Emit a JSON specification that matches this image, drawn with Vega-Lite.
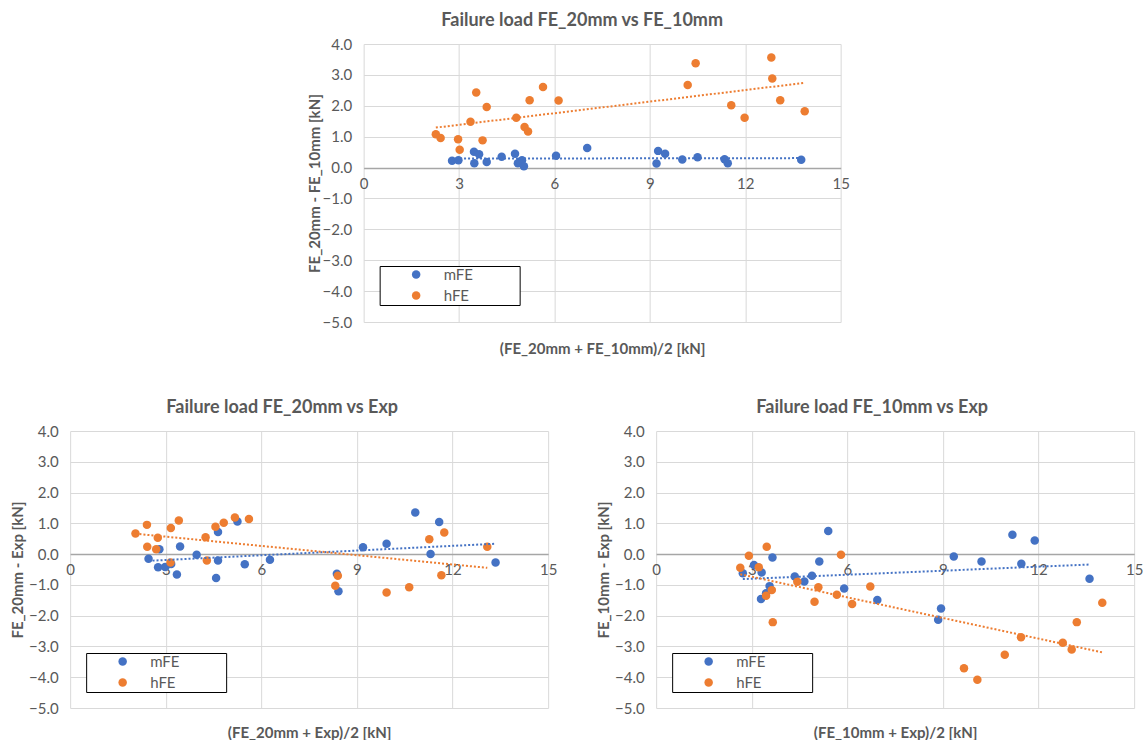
{
  "$schema": "https://vega.github.io/schema/vega-lite/v6.json",
  "padding": {"left": 10, "top": 12, "right": 0, "bottom": 0},
  "background": "white",
  "datasets": {
    "top": [
      {"x": 2.78, "y": 0.22, "s": "mFE"}, {"x": 2.98, "y": 0.24, "s": "mFE"}, {"x": 3.47, "y": 0.51, "s": "mFE"}, {"x": 3.48, "y": 0.14, "s": "mFE"},
      {"x": 3.63, "y": 0.43, "s": "mFE"}, {"x": 3.87, "y": 0.18, "s": "mFE"}, {"x": 4.34, "y": 0.35, "s": "mFE"}, {"x": 4.76, "y": 0.45, "s": "mFE"},
      {"x": 4.85, "y": 0.14, "s": "mFE"}, {"x": 4.98, "y": 0.24, "s": "mFE"}, {"x": 4.92, "y": 0.19, "s": "mFE"}, {"x": 5.04, "y": 0.04, "s": "mFE"},
      {"x": 6.05, "y": 0.38, "s": "mFE"}, {"x": 7.03, "y": 0.63, "s": "mFE"}, {"x": 9.21, "y": 0.13, "s": "mFE"}, {"x": 9.26, "y": 0.54, "s": "mFE"},
      {"x": 9.48, "y": 0.45, "s": "mFE"}, {"x": 10.02, "y": 0.26, "s": "mFE"}, {"x": 10.5, "y": 0.33, "s": "mFE"}, {"x": 11.35, "y": 0.27, "s": "mFE"},
      {"x": 11.45, "y": 0.14, "s": "mFE"}, {"x": 13.76, "y": 0.25, "s": "mFE"},
      {"x": 2.27, "y": 1.08, "s": "hFE"}, {"x": 2.42, "y": 0.96, "s": "hFE"}, {"x": 2.97, "y": 0.92, "s": "hFE"}, {"x": 3.02, "y": 0.58, "s": "hFE"},
      {"x": 3.36, "y": 1.48, "s": "hFE"}, {"x": 3.54, "y": 2.43, "s": "hFE"}, {"x": 3.74, "y": 0.88, "s": "hFE"}, {"x": 3.87, "y": 1.96, "s": "hFE"},
      {"x": 4.8, "y": 1.61, "s": "hFE"}, {"x": 5.06, "y": 1.31, "s": "hFE"}, {"x": 5.17, "y": 1.17, "s": "hFE"}, {"x": 5.22, "y": 2.18, "s": "hFE"},
      {"x": 5.64, "y": 2.61, "s": "hFE"}, {"x": 6.13, "y": 2.17, "s": "hFE"}, {"x": 10.19, "y": 2.67, "s": "hFE"}, {"x": 10.44, "y": 3.38, "s": "hFE"},
      {"x": 11.56, "y": 2.02, "s": "hFE"}, {"x": 11.98, "y": 1.61, "s": "hFE"}, {"x": 12.82, "y": 3.56, "s": "hFE"}, {"x": 12.85, "y": 2.88, "s": "hFE"},
      {"x": 13.1, "y": 2.18, "s": "hFE"}, {"x": 13.87, "y": 1.82, "s": "hFE"}
    ],
    "left": [
      {"x": 2.46, "y": -0.15, "s": "mFE"}, {"x": 2.76, "y": -0.43, "s": "mFE"}, {"x": 2.8, "y": 0.16, "s": "mFE"}, {"x": 2.98, "y": -0.42, "s": "mFE"},
      {"x": 3.17, "y": -0.32, "s": "mFE"}, {"x": 3.35, "y": -0.66, "s": "mFE"}, {"x": 3.45, "y": 0.25, "s": "mFE"}, {"x": 3.97, "y": -0.02, "s": "mFE"},
      {"x": 4.58, "y": -0.78, "s": "mFE"}, {"x": 4.64, "y": 0.72, "s": "mFE"}, {"x": 4.64, "y": -0.21, "s": "mFE"}, {"x": 5.25, "y": 1.06, "s": "mFE"},
      {"x": 5.48, "y": -0.33, "s": "mFE"}, {"x": 6.27, "y": -0.18, "s": "mFE"}, {"x": 8.37, "y": -0.64, "s": "mFE"}, {"x": 8.42, "y": -1.21, "s": "mFE"},
      {"x": 9.19, "y": 0.22, "s": "mFE"}, {"x": 9.93, "y": 0.34, "s": "mFE"}, {"x": 10.83, "y": 1.35, "s": "mFE"}, {"x": 11.31, "y": 0.0, "s": "mFE"},
      {"x": 11.58, "y": 1.04, "s": "mFE"}, {"x": 13.35, "y": -0.27, "s": "mFE"},
      {"x": 2.05, "y": 0.67, "s": "hFE"}, {"x": 2.41, "y": 0.95, "s": "hFE"}, {"x": 2.42, "y": 0.24, "s": "hFE"}, {"x": 2.7, "y": 0.16, "s": "hFE"},
      {"x": 2.75, "y": 0.53, "s": "hFE"}, {"x": 3.15, "y": -0.27, "s": "hFE"}, {"x": 3.16, "y": 0.85, "s": "hFE"}, {"x": 3.41, "y": 1.09, "s": "hFE"},
      {"x": 4.25, "y": 0.55, "s": "hFE"}, {"x": 4.29, "y": -0.21, "s": "hFE"}, {"x": 4.56, "y": 0.89, "s": "hFE"}, {"x": 4.82, "y": 1.02, "s": "hFE"},
      {"x": 5.17, "y": 1.19, "s": "hFE"}, {"x": 5.61, "y": 1.14, "s": "hFE"}, {"x": 8.32, "y": -1.03, "s": "hFE"}, {"x": 8.4, "y": -0.7, "s": "hFE"},
      {"x": 9.93, "y": -1.25, "s": "hFE"}, {"x": 10.64, "y": -1.08, "s": "hFE"}, {"x": 11.27, "y": 0.48, "s": "hFE"}, {"x": 11.65, "y": -0.69, "s": "hFE"},
      {"x": 11.74, "y": 0.7, "s": "hFE"}, {"x": 13.09, "y": 0.24, "s": "hFE"}
    ],
    "right": [
      {"x": 2.72, "y": -0.62, "s": "mFE"}, {"x": 3.07, "y": -0.35, "s": "mFE"}, {"x": 3.29, "y": -1.46, "s": "mFE"}, {"x": 3.31, "y": -0.6, "s": "mFE"},
      {"x": 3.45, "y": -1.27, "s": "mFE"}, {"x": 3.56, "y": -1.04, "s": "mFE"}, {"x": 3.65, "y": -0.11, "s": "mFE"}, {"x": 4.35, "y": -0.73, "s": "mFE"},
      {"x": 4.65, "y": -0.89, "s": "mFE"}, {"x": 4.89, "y": -0.7, "s": "mFE"}, {"x": 5.12, "y": -0.24, "s": "mFE"}, {"x": 5.4, "y": 0.75, "s": "mFE"},
      {"x": 5.9, "y": -1.12, "s": "mFE"}, {"x": 6.94, "y": -1.49, "s": "mFE"}, {"x": 8.85, "y": -2.13, "s": "mFE"}, {"x": 8.94, "y": -1.77, "s": "mFE"},
      {"x": 9.34, "y": -0.08, "s": "mFE"}, {"x": 10.21, "y": -0.24, "s": "mFE"}, {"x": 11.18, "y": 0.63, "s": "mFE"}, {"x": 11.46, "y": -0.31, "s": "mFE"},
      {"x": 11.88, "y": 0.44, "s": "mFE"}, {"x": 13.6, "y": -0.8, "s": "mFE"},
      {"x": 2.64, "y": -0.44, "s": "hFE"}, {"x": 2.91, "y": -0.05, "s": "hFE"}, {"x": 3.22, "y": -0.43, "s": "hFE"}, {"x": 3.45, "y": -1.35, "s": "hFE"},
      {"x": 3.47, "y": 0.24, "s": "hFE"}, {"x": 3.63, "y": -1.17, "s": "hFE"}, {"x": 3.66, "y": -2.21, "s": "hFE"}, {"x": 4.43, "y": -0.9, "s": "hFE"},
      {"x": 4.97, "y": -1.55, "s": "hFE"}, {"x": 5.09, "y": -1.08, "s": "hFE"}, {"x": 5.67, "y": -1.32, "s": "hFE"}, {"x": 5.8, "y": -0.02, "s": "hFE"},
      {"x": 6.15, "y": -1.62, "s": "hFE"}, {"x": 6.72, "y": -1.05, "s": "hFE"}, {"x": 9.66, "y": -3.71, "s": "hFE"}, {"x": 10.08, "y": -4.08, "s": "hFE"},
      {"x": 10.94, "y": -3.27, "s": "hFE"}, {"x": 11.45, "y": -2.7, "s": "hFE"}, {"x": 12.76, "y": -2.88, "s": "hFE"}, {"x": 13.04, "y": -3.1, "s": "hFE"},
      {"x": 13.2, "y": -2.21, "s": "hFE"}, {"x": 14.0, "y": -1.58, "s": "hFE"}
    ]
  },
  "center": true,
  "spacing": 43,
  "resolve": {"scale": {"color": "independent"}, "legend": {"color": "independent"}},
  "vconcat": [
    {
      "width": 477, "height": 278,
      "title": {"text": "Failure load FE_20mm vs FE_10mm", "dx": -20},
      "data": {"name": "top"},
      "resolve": {"axis": {"x": "independent"}},
      "encoding": {
        "y": {"field": "y", "type": "quantitative", "scale": {"domain": [-5, 4], "nice": false, "zero": false},
              "axis": {"values": [-5, -4, -3, -2, -1, 0, 1, 2, 3, 4], "format": ".1f", "title": "FE_20mm - FE_10mm [kN]", "ticks": false, "domain": false, "labelPadding": 12, "titlePadding": 0, "grid": true}}
      },
      "layer": [
        {
          "mark": {"type": "point", "filled": true, "size": 72, "opacity": 1},
          "encoding": {
            "x": {"field": "x", "type": "quantitative", "scale": {"domain": [0, 15], "nice": false, "zero": false},
                  "axis": {"orient": "bottom", "values": [0, 3, 6, 9, 12, 15], "grid": true, "labels": false, "ticks": false, "domain": false, "title": "(FE_20mm + FE_10mm)/2 [kN]", "titlePadding": 19}},
            "color": {"field": "s", "type": "nominal", "scale": {"domain": ["mFE", "hFE"], "range": ["#4472C4", "#ED7D31"]},
                      "legend": {"title": "\u00a0", "titleOrient": "right", "titlePadding": 46}}
          }
        },
        {
          "transform": [{"regression": "y", "on": "x", "groupby": ["s"]}],
          "mark": {"type": "line", "strokeDash": [2, 2], "strokeWidth": 2},
          "encoding": {
            "x": {"field": "x", "type": "quantitative", "scale": {"domain": [0, 15], "nice": false, "zero": false},
                  "axis": {"orient": "bottom", "values": [0, 3, 6, 9, 12, 15], "grid": false, "ticks": false, "domain": true, "offset": -154, "labelPadding": 8, "title": null}},
            "color": {"field": "s", "type": "nominal", "scale": {"domain": ["mFE", "hFE"], "range": ["#4472C4", "#ED7D31"]}, "legend": null}
          }
        }
      ]
    },
    {
      "spacing": 39,
      "resolve": {"scale": {"color": "independent"}, "legend": {"color": "independent"}},
      "hconcat": [
        {
          "width": 478, "height": 277,
          "title": {"text": "Failure load FE_20mm vs Exp", "dx": -27},
          "data": {"name": "left"},
          "resolve": {"axis": {"x": "independent"}},
          "encoding": {
            "y": {"field": "y", "type": "quantitative", "scale": {"domain": [-5, 4], "nice": false, "zero": false},
                  "axis": {"values": [-5, -4, -3, -2, -1, 0, 1, 2, 3, 4], "format": ".1f", "title": "FE_20mm - Exp [kN]", "ticks": false, "domain": false, "labelPadding": 12, "titlePadding": 3, "grid": true}}
          },
          "layer": [
            {
              "mark": {"type": "point", "filled": true, "size": 72, "opacity": 1},
              "encoding": {
                "x": {"field": "x", "type": "quantitative", "scale": {"domain": [0, 15], "nice": false, "zero": false},
                      "axis": {"orient": "bottom", "values": [0, 3, 6, 9, 12, 15], "grid": true, "labels": false, "ticks": false, "domain": false, "title": "(FE_20mm + Exp)/2 [kN]", "titlePadding": 17}},
                "color": {"field": "s", "type": "nominal", "scale": {"domain": ["mFE", "hFE"], "range": ["#4472C4", "#ED7D31"]},
                          "legend": {"title": "\u00a0", "titleOrient": "right", "titlePadding": 46}}
              }
            },
            {
              "transform": [{"regression": "y", "on": "x", "groupby": ["s"]}],
              "mark": {"type": "line", "strokeDash": [2, 2], "strokeWidth": 2},
              "encoding": {
                "x": {"field": "x", "type": "quantitative", "scale": {"domain": [0, 15], "nice": false, "zero": false},
                      "axis": {"orient": "bottom", "values": [0, 3, 6, 9, 12, 15], "grid": false, "ticks": false, "domain": true, "offset": -154, "labelPadding": 8, "title": null}},
                "color": {"field": "s", "type": "nominal", "scale": {"domain": ["mFE", "hFE"], "range": ["#4472C4", "#ED7D31"]}, "legend": null}
              }
            }
          ]
        },
        {
          "width": 478, "height": 277,
          "title": {"text": "Failure load FE_10mm vs Exp", "dx": -23},
          "data": {"name": "right"},
          "resolve": {"axis": {"x": "independent"}},
          "encoding": {
            "y": {"field": "y", "type": "quantitative", "scale": {"domain": [-5, 4], "nice": false, "zero": false},
                  "axis": {"values": [-5, -4, -3, -2, -1, 0, 1, 2, 3, 4], "format": ".1f", "title": "FE_10mm - Exp [kN]", "ticks": false, "domain": false, "labelPadding": 12, "titlePadding": 3, "grid": true}}
          },
          "layer": [
            {
              "mark": {"type": "point", "filled": true, "size": 72, "opacity": 1},
              "encoding": {
                "x": {"field": "x", "type": "quantitative", "scale": {"domain": [0, 15], "nice": false, "zero": false},
                      "axis": {"orient": "bottom", "values": [0, 3, 6, 9, 12, 15], "grid": true, "labels": false, "ticks": false, "domain": false, "title": "(FE_10mm + Exp)/2 [kN]", "titlePadding": 17}},
                "color": {"field": "s", "type": "nominal", "scale": {"domain": ["mFE", "hFE"], "range": ["#4472C4", "#ED7D31"]},
                          "legend": {"title": "\u00a0", "titleOrient": "right", "titlePadding": 46}}
              }
            },
            {
              "transform": [{"regression": "y", "on": "x", "groupby": ["s"]}],
              "mark": {"type": "line", "strokeDash": [2, 2], "strokeWidth": 2},
              "encoding": {
                "x": {"field": "x", "type": "quantitative", "scale": {"domain": [0, 15], "nice": false, "zero": false},
                      "axis": {"orient": "bottom", "values": [0, 3, 6, 9, 12, 15], "grid": false, "ticks": false, "domain": true, "offset": -154, "labelPadding": 8, "title": null}},
                "color": {"field": "s", "type": "nominal", "scale": {"domain": ["mFE", "hFE"], "range": ["#4472C4", "#ED7D31"]}, "legend": null}
              }
            }
          ]
        }
      ]
    }
  ],
  "config": {
    "font": "Lato",
    "view": {"stroke": null},
    "title": {"fontSize": 18, "fontWeight": "bold", "color": "#595959", "offset": 7, "anchor": "middle"},
    "axis": {"labelFont": "Lato", "labelFontSize": 15, "labelColor": "#595959", "titleFont": "Lato", "titleFontSize": 15, "titleFontWeight": "bold", "titleColor": "#595959", "gridColor": "#d9d9d9", "gridWidth": 1, "domainColor": "#a6a6a6", "domainWidth": 1.5, "labelFlush": false, "labelOverlap": false},
    "legend": {"orient": "none", "legendX": 16, "legendY": 222, "strokeColor": "#000000", "strokeWidth": 1, "fillColor": "#ffffff", "padding": 1, "symbolOffset": 28, "labelOffset": 20, "rowPadding": 5, "labelFont": "Lato", "labelFontSize": 15, "labelColor": "#595959", "titleFontSize": 15, "symbolSize": 72, "symbolType": "circle", "symbolStrokeWidth": 0}
  }
}
